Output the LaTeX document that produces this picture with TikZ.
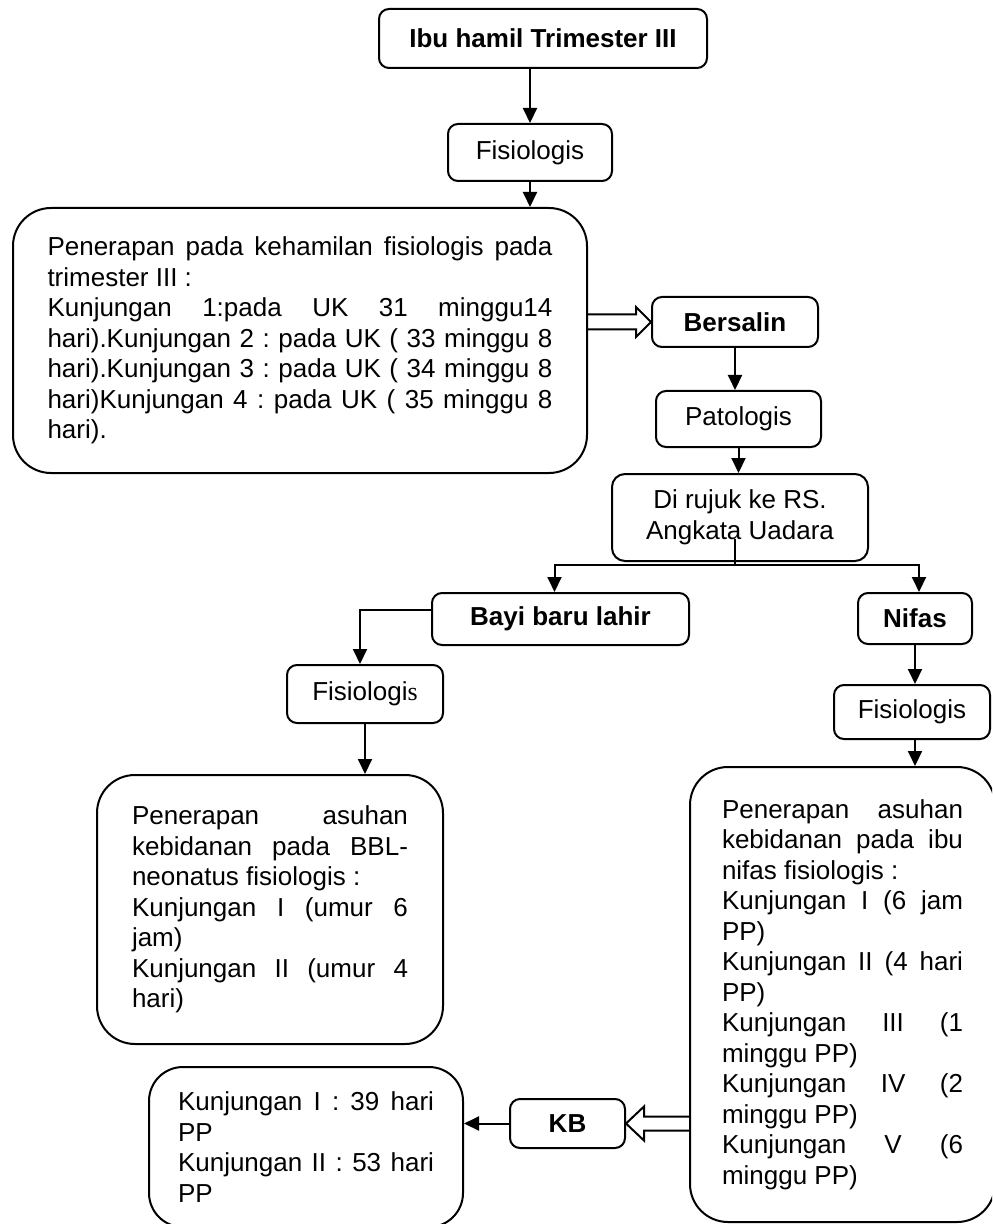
\documentclass[tikz,border=0pt]{standalone}
\usepackage{fontspec}
\setmainfont{Liberation Sans}
\newfontfamily\serifs{Liberation Serif}
\usetikzlibrary{arrows.meta,calc}
\tolerance=10000
\hbadness=10000
\frenchspacing
\tikzset{
  box/.style={draw, rectangle, rounded corners=5pt, align=center, inner sep=0pt},
  tag/.style={box, font=\fontsize{13}{15.25}\selectfont\bfseries},
  bigbox/.style={draw, rectangle, rounded corners=19pt, align=justify, inner sep=0pt}
}
\begin{document}
\begin{tikzpicture}[x=0.5pt, y=-0.5pt, >={Triangle[length=7.5pt,width=7pt]}, line width=1pt,
  font=\fontsize{13}{15.25}\selectfont]
\clip (0,0) rectangle (992,1224);
\node[tag, minimum width=164pt, minimum height=29.5pt] (ibu) at (543,38.5) {Ibu hamil Trimester III};
\node[box, minimum width=82pt, minimum height=28.5pt] (fis1) at (530,152.5) {Fisiologis};
\node[bigbox, minimum width=287pt, minimum height=132.5pt, text width=252.5pt] (hamil) at (300,340.5)
  {Penerapan pada kehamilan fisiologis pada\linebreak trimester III :\par
   Kunjungan 1:pada UK 31 minggu14\linebreak hari).Kunjungan 2 : pada UK ( 33 minggu 8\linebreak
   hari).Kunjungan 3 : pada UK ( 34 minggu 8\linebreak hari)Kunjungan 4 : pada UK ( 35 minggu 8\linebreak hari).};
\node[tag, minimum width=83pt, minimum height=25pt] (bersalin) at (735,322) {Bersalin};
\node[box, minimum width=82.5pt, minimum height=28pt] (pato) at (738.5,419) {Patologis};
\node[box, rounded corners=6.5pt, minimum width=128pt, minimum height=43.5pt] (rujuk) at (740,517.5) {Di rujuk ke RS.\\Angkata Uadara};
\node[tag, minimum width=128.5pt, minimum height=26pt] (bayi) at (560.5,619) {Bayi baru lahir};
\node[tag, minimum width=57pt, minimum height=25.5pt] (nifas) at (915,618.5) {Nifas};
\node[box, minimum width=78pt, minimum height=29pt] (fis2) at (365,694) {Fisiologi{\serifs s}};
\node[box, minimum width=78pt, minimum height=27pt] (fis3) at (912,712) {Fisiologis};
\node[bigbox, minimum width=173pt, minimum height=134.5pt, text width=138pt] (bbl) at (270,909.5)
  {Penerapan asuhan\linebreak kebidanan pada BBL-\linebreak neonatus fisiologis :\par
   Kunjungan I (umur 6\linebreak jam)\par Kunjungan II (umur 4\linebreak hari)};
\node[bigbox, minimum width=152.5pt, minimum height=227.5pt, text width=120.5pt] (ibunifas) at (842.5,994.5)
  {Penerapan asuhan\linebreak kebidanan pada ibu\linebreak nifas fisiologis :\par
   Kunjungan I (6 jam\linebreak PP)\par Kunjungan II (4 hari\linebreak PP)\par
   Kunjungan III (1\linebreak minggu PP)\par Kunjungan IV (2\linebreak minggu PP)\par
   Kunjungan V (6\linebreak minggu PP)};
\node[tag, minimum width=57.5pt, minimum height=24.5pt] (kb) at (567.5,1123.5) {KB};
\node[bigbox, rounded corners=17pt, minimum width=157pt, minimum height=80pt, text width=128pt] (kunj) at (306,1147)
  {Kunjungan I : 39 hari\linebreak PP\par Kunjungan II : 53 hari\linebreak PP};
% arrows
\draw[->] (fis1.north |- ibu.south) -- (fis1.north);
\draw[->] (fis1.south) -- (fis1.south |- hamil.north);
\coordinate (t1) at (hamil.east |- bersalin.west);
\draw (t1) ++(0,-7.5) -- ($(bersalin.west)+(-15,-7.5)$) -- ($(bersalin.west)+(-15,-15)$) -- (bersalin.west)
  -- ($(bersalin.west)+(-15,15)$) -- ($(bersalin.west)+(-15,7.5)$) -- ($(t1)+(0,7.5)$);
\draw[->] (bersalin.south) -- (bersalin.south |- pato.north);
\draw[->] (pato.south) -- (pato.south |- rujuk.north);
\coordinate (fork) at ($(rujuk.south)+(-5,3)$);
\draw (fork) -- ++(0,-26);
\draw[->] (fork) -| ($(bayi.north)+(-6,0)$);
\draw[->] (fork) -| ($(nifas.north)+(4,0)$);
\draw[->] ($(bayi.west)+(0,-9)$) -| ($(fis2.north)+(-5,0)$);
\draw[->] (fis2.south) -- (fis2.south |- bbl.north);
\draw[->] (nifas.south) -- (nifas.south |- fis3.north);
\draw[->] (nifas.south |- fis3.south) -- (nifas.south |- ibunifas.north);
\coordinate (t2) at (ibunifas.west |- kb.east);
\draw (t2) ++(0,-7) -- ($(kb.east)+(18,-7)$) -- ($(kb.east)+(18,-17)$) -- (kb.east)
  -- ($(kb.east)+(18,17)$) -- ($(kb.east)+(18,7)$) -- ($(t2)+(0,7)$);
\draw[->] (kb.west) -- (kb.west -| kunj.east);
\end{tikzpicture}
\end{document}
